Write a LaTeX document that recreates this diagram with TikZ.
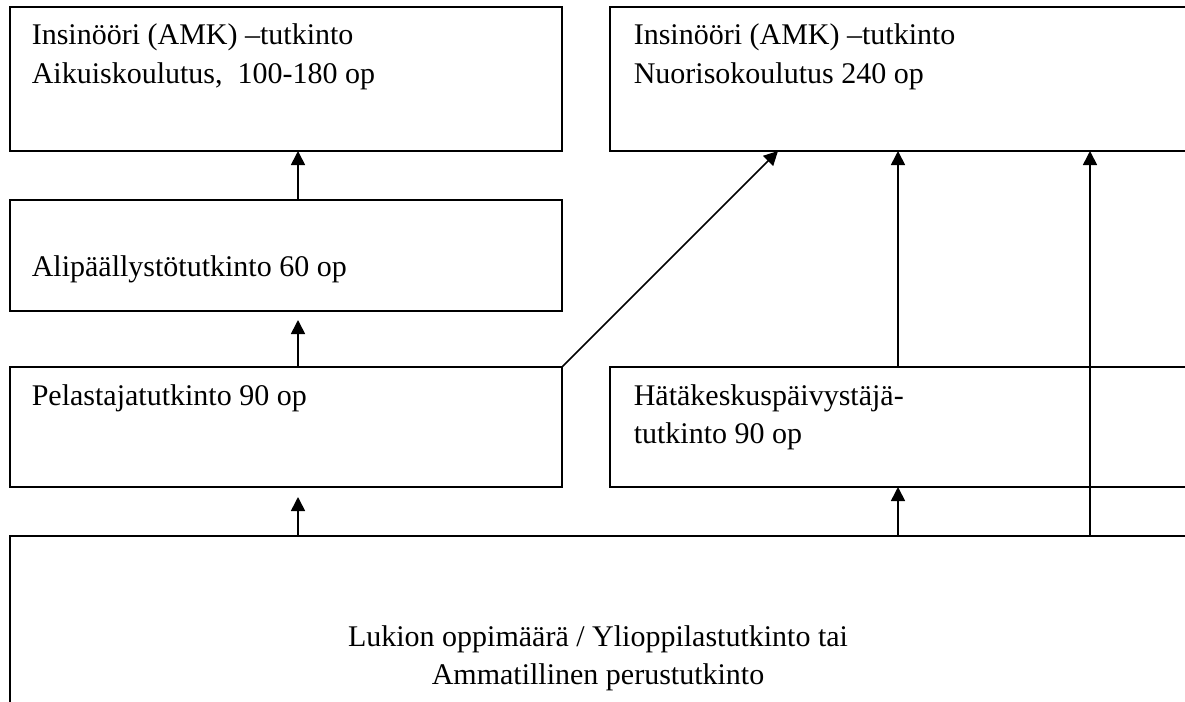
\documentclass[tikz,border=0pt]{standalone}
\usepackage{fontspec}
\setmainfont{Liberation Serif}
\usetikzlibrary{arrows.meta}
\begin{document}
\begin{tikzpicture}[x=1pt,y=-1pt, line width=1.6pt,
  box/.style={draw, rectangle, anchor=north west, inner sep=0pt, outer sep=0pt},
  arr/.style={-{Triangle[length=14pt,width=14pt]}},
  txt/.style={anchor=base west, inner sep=0pt, font=\fontsize{30}{38}\selectfont},
  ctxt/.style={anchor=base, inner sep=0pt, font=\fontsize{30}{38}\selectfont}]
\clip (0,0) rectangle (1185,701);
\useasboundingbox (0,0) rectangle (1185,701);
% boxes
\node[box, minimum width=552pt, minimum height=144pt] (A) at (10,7) {};
\node[box, minimum width=580pt, minimum height=144pt] (B) at (610,7) {};
\node[box, minimum width=552pt, minimum height=111pt] (C) at (10,200) {};
\node[box, minimum width=552pt, minimum height=120pt] (D) at (10,367) {};
\node[box, minimum width=580pt, minimum height=120pt] (E) at (610,367) {};
\node[box, minimum width=1176pt, minimum height=220pt] (F) at (10,536) {};
% texts
\node[txt] (ta1) at (31,45) {Insinööri (AMK) –tutkinto};
\node[txt] (ta2) at (31,83) {Aikuiskoulutus,\ \ 100-180 op};
\node[txt] (tb1) at (633,45) {Insinööri (AMK) –tutkinto};
\node[txt] (tb2) at (633,83) {Nuorisokoulutus 240 op};
\node[txt] (tc) at (31,276) {Alipäällystötutkinto 60 op};
\node[txt] (td) at (31,405) {Pelastajatutkinto 90 op};
\node[txt] (te1) at (633,405) {Hätäkeskuspäivystäjä-};
\node[txt] (te2) at (633,443) {tutkinto 90 op};
\node[ctxt] (tf1) at (598,646) {Lukion oppimäärä / Ylioppilastutkinto tai};
\node[ctxt] (tf2) at (598,684) {Ammatillinen perustutkinto};
% arrow columns
\coordinate (x1) at (298,0);
\coordinate (x2) at (898,0);
\coordinate (x3) at (1090,0);
\coordinate (dg) at (778,151);
% connectors
\draw[arr] (x1 |- C.north) -- (x1 |- A.south);
\draw[arr, shorten >=9pt] (x1 |- D.north) -- (x1 |- C.south);
\draw[arr, shorten >=10pt] (x1 |- F.north) -- (x1 |- D.south);
\draw[arr] (x2 |- F.north) -- (x2 |- E.south);
\draw[arr] (x2 |- E.north) -- (x2 |- B.south);
\draw[arr] (x3 |- F.north) -- (x3 |- B.south);
\draw[arr] (D.north east) -- (dg);
\end{tikzpicture}
\end{document}
